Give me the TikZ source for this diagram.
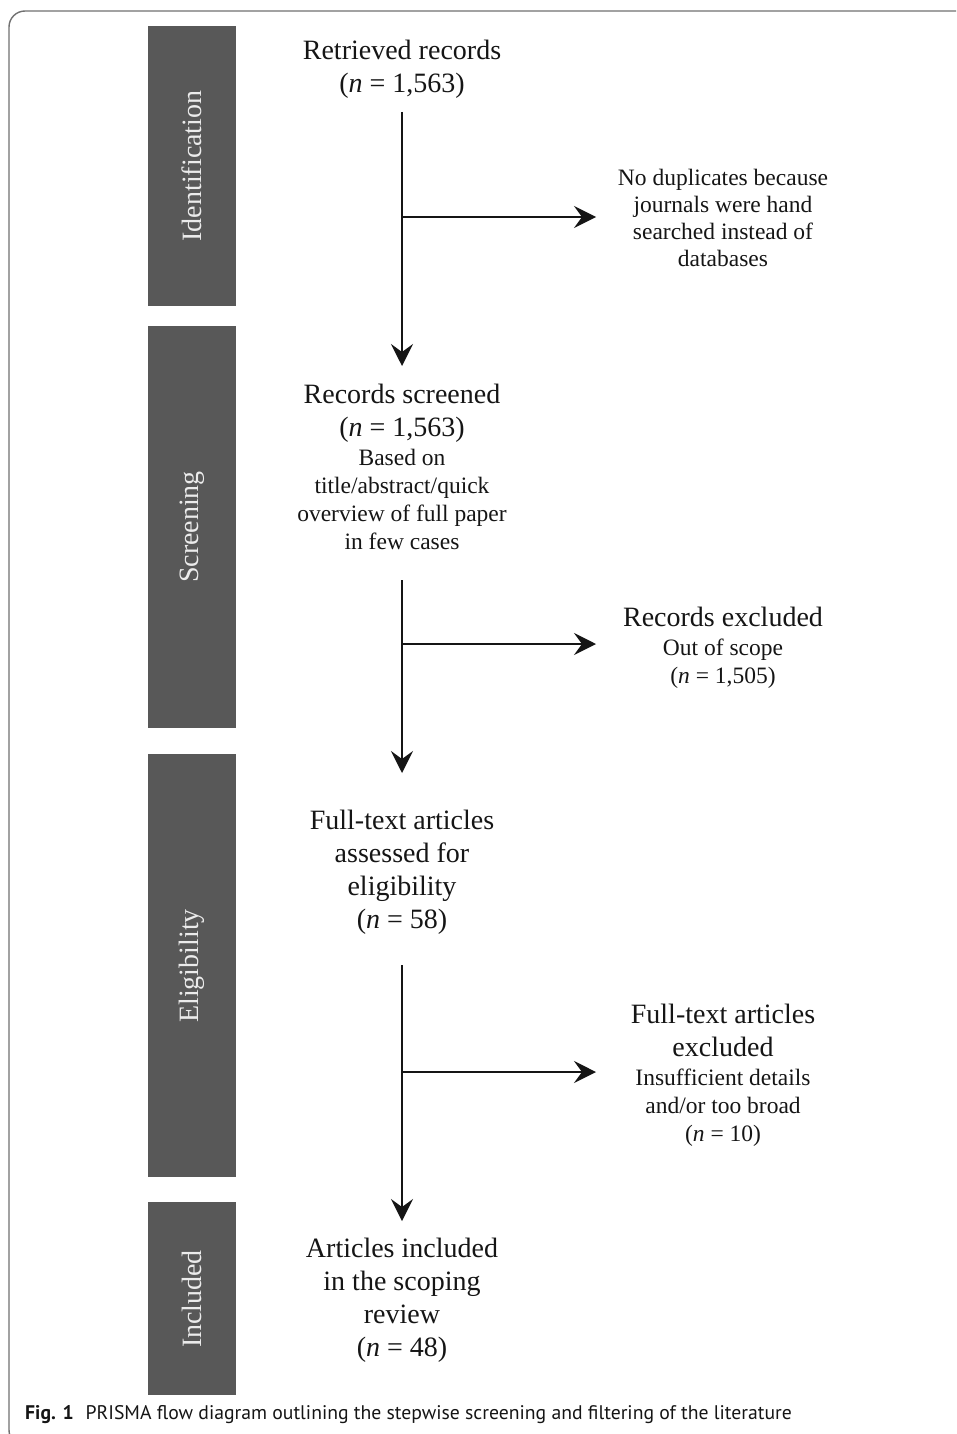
\documentclass[tikz,border=0pt]{standalone}
\usepackage{fontspec}
\setmainfont{Liberation Serif}
\newfontfamily\capfont{PT Sans}
\usetikzlibrary{arrows.meta}
\definecolor{bandgray}{HTML}{585858}
\definecolor{framegray}{HTML}{707070}
\definecolor{inkc}{HTML}{151515}
\begin{document}
\begin{tikzpicture}[x=1pt,y=-1pt,
  band/.style={fill=bandgray,draw=none},
  bandtext/.style={rotate=90,text=white!92!black,font=\fontsize{28}{33}\selectfont,inner sep=0pt},
  bigtxt/.style={align=center,text=inkc,font=\fontsize{28}{33}\selectfont,inner sep=0pt},
  smalltxt/.style={align=center,text=inkc,font=\fontsize{23.5}{27.3}\selectfont,inner sep=0pt},
  flow/.style={draw=inkc,line width=1.6pt},
  arr/.style={flow,-{Stealth[length=22pt,width=22pt,inset=8pt]}}]
\useasboundingbox (0,0) rectangle (956,1434);
\begin{scope}
\clip (0,0) rectangle (956,1434);
\draw[framegray,line width=1.4pt,rounded corners=16pt] (1000,11) -- (9,11) -- (9,1446) -- (60,1446);
\end{scope}
% bands
\path[band] (148,26) rectangle (236,306);
\path[band] (148,326) rectangle (236,728);
\path[band] (148,754) rectangle (236,1177);
\path[band] (148,1202) rectangle (236,1395);
\node[bandtext] (bid) at (192,166) {Identification};
\node[bandtext] (bsc) at (192,527) {Screening};
\node[bandtext] (bel) at (192,966) {Eligibility};
\node[bandtext] (bin) at (192,1299) {Included};
% main nodes
\node[bigtxt] (ret) at (402,69) {Retrieved records\\(\textit{n} = 1,563)};
\node[bigtxt,anchor=north] (scr) at (402,384) {Records screened\\(\textit{n} = 1,563)\\[-4pt]{\fontsize{23.5}{27.3}\selectfont Based on}\\[-5pt]{\fontsize{23.5}{27.3}\selectfont title/abstract/quick}\\[-5pt]{\fontsize{23.5}{27.3}\selectfont overview of full paper}\\[-5pt]{\fontsize{23.5}{27.3}\selectfont in few cases}};
\node[bigtxt] (ful) at (402,872) {Full-text articles\\assessed for\\eligibility\\(\textit{n} = 58)};
\node[bigtxt] (inc) at (402,1300) {Articles included\\in the scoping\\review\\(\textit{n} = 48)};
% side nodes
\node[smalltxt] (dup) at (723,218) {No duplicates because\\journals were hand\\searched instead of\\databases};
\node[bigtxt] (rex) at (723,647.5) {Records excluded\\[-4pt]{\fontsize{23.5}{27.3}\selectfont Out of scope}\\[-5pt]{\fontsize{23.5}{27.3}\selectfont (\textit{n} = 1,505)}};
\node[bigtxt] (fex) at (723,1075.5) {Full-text articles\\excluded\\[-4pt]{\fontsize{23.5}{27.3}\selectfont Insufficient details}\\[-5pt]{\fontsize{23.5}{27.3}\selectfont and/or too broad}\\[-5pt]{\fontsize{23.5}{27.3}\selectfont (\textit{n} = 10)}};
% connector coordinates
\coordinate (s1) at (402,112);
\coordinate (e1) at (402,366);
\coordinate (b1) at (402,217);
\coordinate (t1) at (596,217);
\coordinate (s2) at (402,580);
\coordinate (e2) at (402,773);
\coordinate (b2) at (402,644);
\coordinate (t2) at (596,644);
\coordinate (s3) at (402,965);
\coordinate (e3) at (402,1221);
\coordinate (b3) at (402,1072);
\coordinate (t3) at (596,1072);
\draw[arr] (s1) -- (e1);
\draw[arr] (b1) -- (t1);
\draw[arr] (s2) -- (e2);
\draw[arr] (b2) -- (t2);
\draw[arr] (s3) -- (e3);
\draw[arr] (b3) -- (t3);
% caption
\node[anchor=west,inner sep=0pt,text=inkc,font=\capfont\fontsize{19.7}{22}\selectfont] (cap) at (25,1415) {\textbf{Fig. 1}\hspace{0.6em}PRISMA flow diagram outlining the stepwise screening and filtering of the literature};
\end{tikzpicture}
\end{document}
